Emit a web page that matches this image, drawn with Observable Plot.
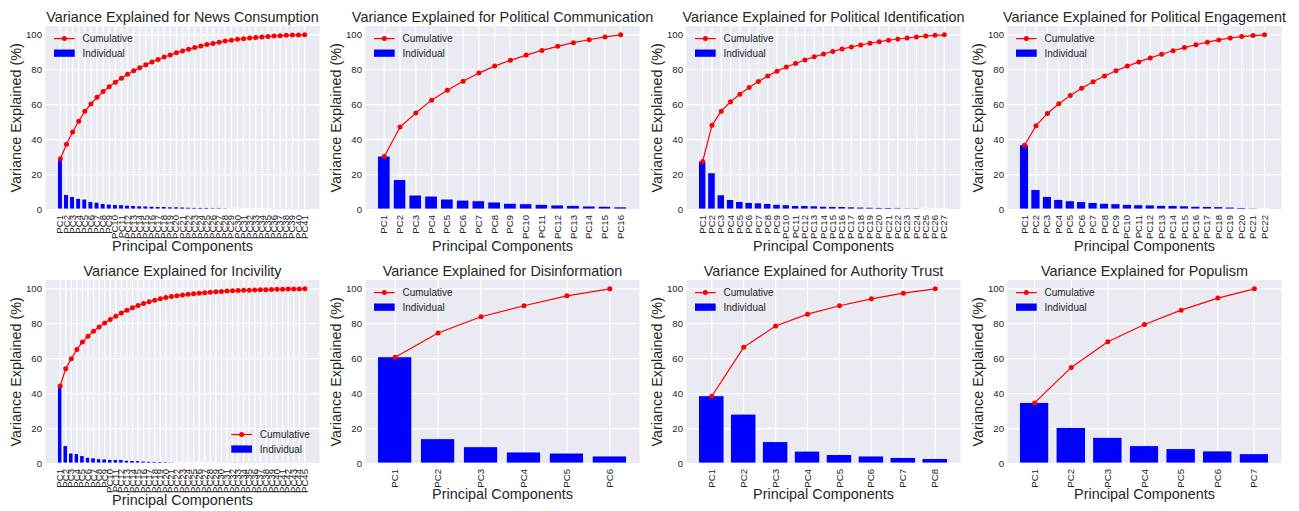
<!DOCTYPE html>
<html><head><meta charset="utf-8">
<script src="https://cdn.jsdelivr.net/npm/d3@7"></script>
<script src="https://cdn.jsdelivr.net/npm/@observablehq/plot@0.6"></script>
<style>
body{margin:0;background:#fff;}
#chart{position:relative;width:1299px;height:511px;overflow:hidden;font-family:"Liberation Sans",Arial,sans-serif;}
#chart svg{position:absolute;}
</style></head><body><div id="chart"></div>
<script>
const titles = [
  "Variance Explained for News Consumption",
  "Variance Explained for Political Communication",
  "Variance Explained for Political Identification",
  "Variance Explained for Political Engagement",
  "Variance Explained for Incivility",
  "Variance Explained for Disinformation",
  "Variance Explained for Authority Trust",
  "Variance Explained for Populism"
];
const xAxisLabel = "Principal Components";
const yAxisLabel = "Variance Explained (%)";
const legendLabels = ["Cumulative", "Individual"];
const yTicks = [0, 20, 40, 60, 80, 100];

const newsIndividual = [29.0, 8.3, 7.1, 6.1, 5.7, 4.2, 3.9, 3.2, 2.8, 2.5, 2.4, 2.2, 2.0, 1.8, 1.7, 1.6, 1.4, 1.4, 1.2, 1.2, 1.1, 1.0, 0.9, 0.9, 0.8, 0.7, 0.7, 0.6, 0.5, 0.5, 0.4, 0.4, 0.3, 0.3, 0.3, 0.2, 0.2, 0.2, 0.15, 0.1, 0.05];
const newsCumulative = [29.0, 37.3, 44.4, 50.5, 56.2, 60.4, 64.3, 67.5, 70.3, 72.8, 75.2, 77.4, 79.4, 81.2, 82.9, 84.5, 85.9, 87.3, 88.5, 89.7, 90.8, 91.8, 92.7, 93.6, 94.4, 95.1, 95.8, 96.4, 96.9, 97.4, 97.8, 98.2, 98.5, 98.8, 99.1, 99.3, 99.5, 99.7, 99.85, 99.95, 100];

const commIndividual = [30.3, 16.9, 8.0, 7.4, 5.7, 5.1, 4.7, 4.0, 3.3, 3.0, 2.7, 2.3, 2.1, 1.7, 1.6, 1.2];
const commCumulative = [30.3, 47.2, 55.2, 62.6, 68.3, 73.4, 78.1, 82.1, 85.4, 88.4, 91.1, 93.4, 95.5, 97.2, 98.8, 100];

const identIndividual = [27.5, 20.7, 8.1, 5.4, 4.3, 3.8, 3.5, 3.2, 2.7, 2.4, 2.0, 2.0, 1.8, 1.6, 1.5, 1.4, 1.2, 1.1, 1.0, 0.9, 0.8, 0.7, 0.6, 0.6, 0.5, 0.4, 0.3];
const identCumulative = [27.5, 48.2, 56.3, 61.7, 66.0, 69.8, 73.3, 76.5, 79.2, 81.6, 83.6, 85.6, 87.4, 89.0, 90.5, 91.9, 93.1, 94.2, 95.2, 96.1, 96.9, 97.6, 98.2, 98.8, 99.3, 99.7, 100];

const engIndividual = [36.8, 11.1, 7.1, 5.5, 4.7, 4.2, 3.7, 3.3, 3.0, 2.7, 2.4, 2.3, 2.1, 2.0, 1.8, 1.6, 1.5, 1.3, 1.1, 0.8, 0.6, 0.4];
const engCumulative = [36.8, 47.9, 55.0, 60.5, 65.2, 69.4, 73.1, 76.4, 79.4, 82.1, 84.5, 86.8, 88.9, 90.9, 92.7, 94.3, 95.8, 97.1, 98.2, 99.0, 99.6, 100];

const incivIndividual = [44.4, 9.9, 5.7, 5.3, 4.2, 3.3, 2.9, 2.4, 2.3, 2.0, 1.9, 1.9, 1.6, 1.4, 1.3, 1.1, 1.0, 0.9, 0.8, 0.7, 0.6, 0.5, 0.4, 0.4, 0.3, 0.3, 0.3, 0.25, 0.25, 0.2, 0.2, 0.15, 0.15, 0.12, 0.12, 0.11, 0.1, 0.09, 0.08, 0.08, 0.07, 0.07, 0.06, 0.05, 0.05];
const incivCumulative = [44.4, 54.3, 60.0, 65.3, 69.5, 72.8, 75.7, 78.1, 80.4, 82.4, 84.3, 86.2, 87.8, 89.2, 90.5, 91.6, 92.6, 93.5, 94.3, 95.0, 95.6, 96.1, 96.5, 96.9, 97.2, 97.5, 97.8, 98.05, 98.3, 98.5, 98.7, 98.85, 99.0, 99.12, 99.24, 99.35, 99.45, 99.54, 99.62, 99.7, 99.77, 99.84, 99.9, 99.95, 100];

const disinfoIndividual = [60.8, 13.9, 9.3, 6.3, 5.7, 4.0];
const disinfoCumulative = [60.8, 74.7, 84.0, 90.3, 96.0, 100];

const authIndividual = [38.5, 28.0, 12.2, 6.8, 4.8, 4.0, 3.2, 2.5];
const authCumulative = [38.5, 66.5, 78.7, 85.5, 90.3, 94.3, 97.5, 100];

const popIndividual = [34.7, 20.3, 14.7, 9.9, 8.2, 6.9, 5.3];
const popCumulative = [34.7, 55.0, 69.7, 79.6, 87.8, 94.7, 100];

const panels = [
  {title: titles[0], ind: newsIndividual, cum: newsCumulative, legend: "top-left"},
  {title: titles[1], ind: commIndividual, cum: commCumulative, legend: "top-left"},
  {title: titles[2], ind: identIndividual, cum: identCumulative, legend: "top-left"},
  {title: titles[3], ind: engIndividual, cum: engCumulative, legend: "top-left"},
  {title: titles[4], ind: incivIndividual, cum: incivCumulative, legend: "bottom-right"},
  {title: titles[5], ind: disinfoIndividual, cum: disinfoCumulative, legend: "top-left"},
  {title: titles[6], ind: authIndividual, cum: authCumulative, legend: "top-left"},
  {title: titles[7], ind: popIndividual, cum: popCumulative, legend: "top-left"}
];

// layout
const FONT = '"Liberation Sans", Arial, sans-serif';
const TEXT = "#262626";
const colX0 = [44.5, 365.3, 686, 1006.5];
const rowY0 = [25.6, 279.3];
const W = 274, H = 183.4;
const ML = 44, MR = 8, MT = 25.6, MB = 48;

function legendMark(pos) {
  return (index, scales, values, dims) => {
    const g = d3.create("svg:g").attr("font-size", 10).attr("fill", TEXT)
      .attr("font-family", FONT).attr("text-anchor", "start");
    let lx, ly;
    if (pos === "top-left") { lx = dims.marginLeft + 9; ly = dims.marginTop + 13; }
    else { lx = dims.width - dims.marginRight - 87.7; ly = dims.height - dims.marginBottom - 28.5; }
    g.append("line").attr("x1", lx).attr("x2", lx + 20.7).attr("y1", ly).attr("y2", ly)
      .attr("stroke", "red").attr("stroke-width", 1.2);
    g.append("circle").attr("cx", lx + 10.35).attr("cy", ly).attr("r", 2.5).attr("fill", "red");
    g.append("text").attr("x", lx + 28.5).attr("y", ly).attr("dy", "0.35em")
      .attr("text-anchor", "start").text(legendLabels[0]);
    g.append("rect").attr("x", lx).attr("y", ly + 10.9).attr("width", 20.7).attr("height", 7.3).attr("fill", "blue");
    g.append("text").attr("x", lx + 28.5).attr("y", ly + 14.6).attr("dy", "0.35em")
      .attr("text-anchor", "start").text(legendLabels[1]);
    return g.node();
  };
}

const chart = document.getElementById("chart");
panels.forEach((p, k) => {
  const col = k % 4, row = Math.floor(k / 4);
  const n = p.ind.length;
  const rows = p.ind.map((v, i) => ({i, ind: v, cum: p.cum[i]}));
  const m = 0.05 * (n - 0.2);
  const idx = d3.range(n);
  const maxLen = ("PC" + n).length;
  const labelDy = maxLen >= 4 ? 41 : 35.8;
  const svg = Plot.plot({
    width: W + ML + MR, height: H + MT + MB,
    marginLeft: ML, marginRight: MR, marginTop: MT, marginBottom: MB,
    style: {fontFamily: FONT, fontSize: "9.6px", color: TEXT, background: "transparent", overflow: "visible"},
    x: {type: "linear", domain: [-0.4 - m, n - 0.6 + m], axis: null},
    y: {domain: [0, 105], axis: null},
    marks: [
      Plot.frame({fill: "#EAEAF2", stroke: null}),
      Plot.gridY(yTicks, {stroke: "white", strokeOpacity: 1, strokeWidth: 1.2}),
      Plot.gridX(idx, {stroke: "white", strokeOpacity: 1, strokeWidth: 1.2}),
      Plot.rectY(rows, {x1: d => d.i - 0.4, x2: d => d.i + 0.4, y1: 0, y2: "ind", fill: "blue", stroke: "white", strokeWidth: 0.8}),
      Plot.line(rows, {x: "i", y: "cum", stroke: "red", strokeWidth: 1.2}),
      Plot.dot(rows, {x: "i", y: "cum", r: 2.5, fill: "red", stroke: null}),
      Plot.axisY(yTicks, {tickSize: 0, tickPadding: 3.5, fontSize: 9.6, label: null}),
      Plot.axisX(idx, {tickSize: 0, tickPadding: 5.5, tickRotate: -90, tickFormat: i => "PC" + (i + 1), fontSize: 9.6, label: null}),
      Plot.text([p.title], {frameAnchor: "top", dy: -4, lineAnchor: "bottom", textAnchor: "middle", fontSize: 14.4, fill: TEXT}),
      Plot.text([xAxisLabel], {frameAnchor: "bottom", dy: labelDy, lineAnchor: "bottom", textAnchor: "middle", fontSize: 14.4, fill: TEXT}),
      Plot.text([yAxisLabel], {frameAnchor: "left", dx: -25, rotate: -90, lineAnchor: "bottom", textAnchor: "middle", fontSize: 14.4, fill: TEXT}),
      legendMark(p.legend)
    ]
  });
  svg.style.left = (colX0[col] - ML) + "px";
  svg.style.top = (rowY0[row] - MT) + "px";
  chart.appendChild(svg);
});
</script>
</body></html>
